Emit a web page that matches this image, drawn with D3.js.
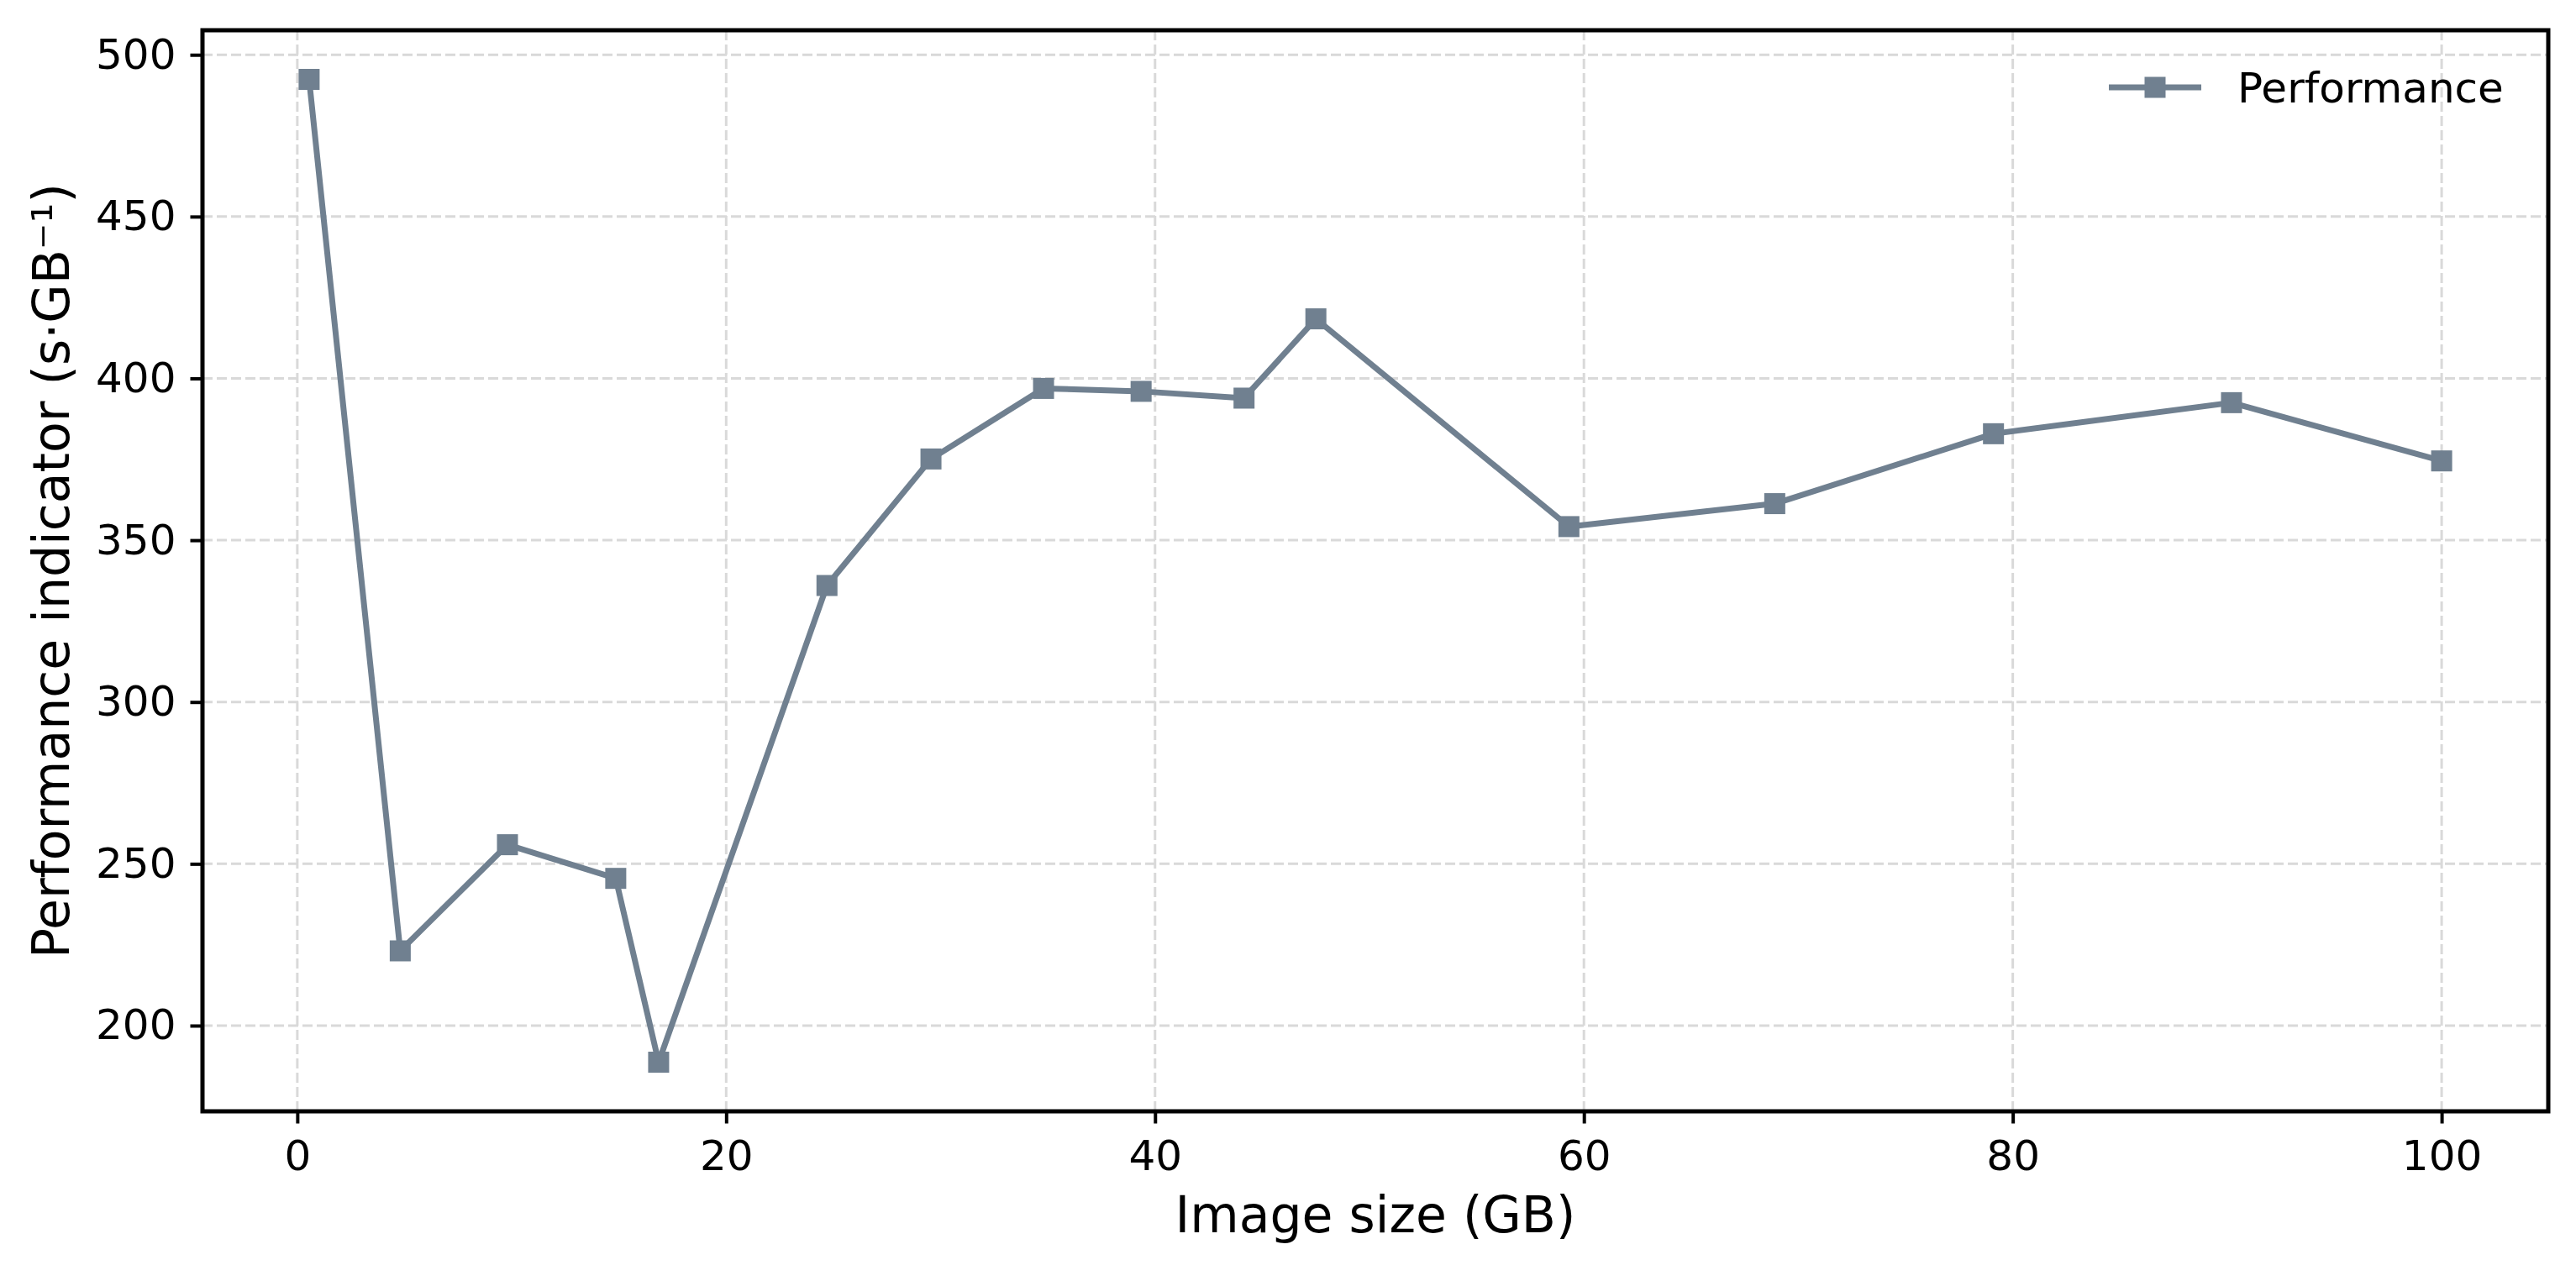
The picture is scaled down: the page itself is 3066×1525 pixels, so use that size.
<!DOCTYPE html>
<html>
<head>
<meta charset="utf-8">
<script src="https://cdn.jsdelivr.net/npm/d3@7"></script>
<style>
  body { margin: 0; background: #fff; }
  text { font-family: "DejaVu Sans", sans-serif; fill: #000; }
</style>
</head>
<body>
<div id="chart"></div>
<script>
// image size (GB) and performance indicator (s per GB)
const imageSize = [0.55, 4.8, 9.8, 14.85, 16.85, 24.7, 29.55, 34.8, 39.35, 44.15, 47.5, 59.3, 68.9, 79.1, 90.2, 100];
const performance = [492.4, 223.1, 255.9, 245.5, 188.7, 336, 375.1, 396.9, 396, 393.9, 418.4, 354.2, 361.3, 382.9, 392.5, 374.5];
const xTicks = [0, 20, 40, 60, 80, 100];
const yTicks = [200, 250, 300, 350, 400, 450, 500];
const seriesName = "Performance";
const xTitle = "Image size (GB)";
const yTitle = "Performance indicator (s\u00b7GB\u207b\u00b9)";

var W = 3066, H = 1525;
var margin = { top: 36, right: 33, bottom: 202, left: 241 };
var width = W - margin.left - margin.right;
var height = H - margin.top - margin.bottom;
var color = "#708090";

var svg = d3.select("#chart").append("svg")
    .attr("width", W)
    .attr("height", H);

var g = svg.append("g")
    .attr("transform", "translate(" + margin.left + "," + margin.top + ")");

// matplotlib-style 5% padding
function pad(arr) {
    const lo = d3.min(arr), hi = d3.max(arr), p = (hi - lo) * 0.05;
    return [lo - p, hi + p];
}

const x = d3.scaleLinear().domain(pad(imageSize)).range([0, width]);
const y = d3.scaleLinear().domain(pad(performance)).range([height, 0]);

// grid
g.append("g").selectAll("line")
    .data(xTicks).enter().append("line")
    .attr("x1", d => x(d)).attr("x2", d => x(d))
    .attr("y1", 0).attr("y2", height)
    .attr("stroke", "#d9d9d9").attr("stroke-width", 3)
    .attr("stroke-dasharray", "12,5");

g.append("g").selectAll("line")
    .data(yTicks).enter().append("line")
    .attr("y1", d => y(d)).attr("y2", d => y(d))
    .attr("x1", 0).attr("x2", width)
    .attr("stroke", "#d9d9d9").attr("stroke-width", 3)
    .attr("stroke-dasharray", "12,5");

// axes
var xAxis = g.append("g")
    .attr("transform", `translate(0,${height})`)
    .call(d3.axisBottom(x).tickValues(xTicks).tickSize(14.5).tickPadding(20).tickSizeOuter(0));

var yAxis = g.append("g")
    .call(d3.axisLeft(y).tickValues(yTicks).tickSize(14.5).tickPadding(17).tickSizeOuter(0));

[xAxis, yAxis].forEach(a => {
    a.select(".domain").remove();
    a.selectAll(".tick line").attr("stroke", "#000").attr("stroke-width", 4);
    a.selectAll(".tick text").style("font-size", "50px").style("font-family", "DejaVu Sans");
});

// frame
g.append("rect")
    .attr("x", 0).attr("y", 0)
    .attr("width", width).attr("height", height)
    .attr("fill", "none").attr("stroke", "#000").attr("stroke-width", 5);

// titles
svg.append("text")
    .attr("x", margin.left + width / 2)
    .attr("y", 1467)
    .attr("text-anchor", "middle")
    .style("font-size", "60px")
    .text(xTitle);

svg.append("text")
    .attr("transform", "translate(82," + (margin.top + height / 2) + ") rotate(-90)")
    .attr("text-anchor", "middle")
    .style("font-size", "60px")
    .text(yTitle);

// series
const line = d3.line()
    .x((d, i) => x(imageSize[i]))
    .y(d => y(d));

g.append("path")
    .datum(performance)
    .attr("fill", "none")
    .attr("stroke", color)
    .attr("stroke-width", 7)
    .attr("stroke-linejoin", "round")
    .attr("d", line);

g.selectAll("rect.pt")
    .data(performance)
    .enter()
    .append("rect")
    .attr("class", "pt")
    .attr("x", (d, i) => x(imageSize[i]) - 12.5)
    .attr("y", d => y(d) - 12.5)
    .attr("width", 25)
    .attr("height", 25)
    .attr("fill", color);

// legend
var leg = svg.append("g").attr("transform", "translate(2510,104)");
leg.append("line")
    .attr("x1", 0).attr("x2", 110)
    .attr("stroke", color).attr("stroke-width", 7);
leg.append("rect")
    .attr("x", 42.5).attr("y", -12.5)
    .attr("width", 25).attr("height", 25)
    .attr("fill", color);
leg.append("text")
    .attr("x", 153)
    .attr("y", 18)
    .style("font-size", "50px")
    .text(seriesName);
</script>
</body>
</html>
